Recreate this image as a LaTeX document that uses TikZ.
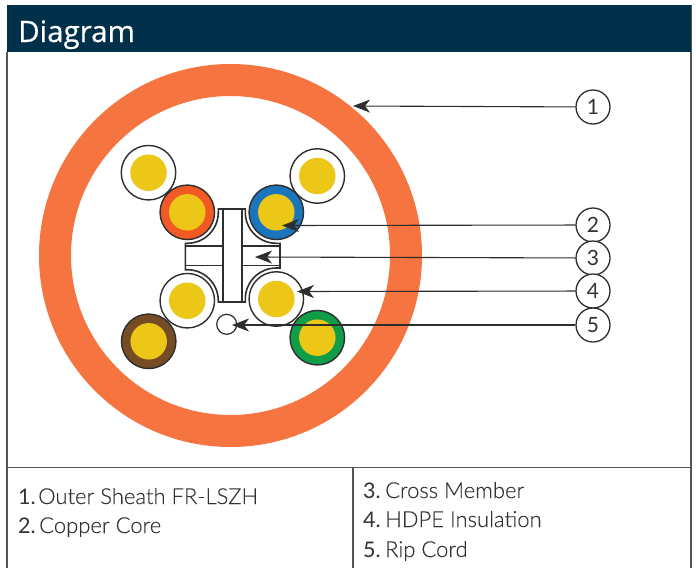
\documentclass[tikz,border=0pt]{standalone}
\usepackage{fontspec}
\setmainfont{Open Sans}
\newfontfamily\titlef[FakeBold=0.5]{Open Sans}
\newfontfamily\lightf[FakeBold=0.12]{Lato Light}
\newfontfamily\numf{Lato}
\usetikzlibrary{arrows.meta}
\definecolor{navy}{HTML}{01304A}
\definecolor{sheath}{HTML}{F5743F}
\definecolor{core}{HTML}{EDC717}
\definecolor{frameline}{HTML}{555555}
\definecolor{wireline}{HTML}{2E2E2E}
\definecolor{tOrange}{HTML}{F15A24}
\definecolor{tBlue}{HTML}{1B75BC}
\definecolor{tGreen}{HTML}{0F9D48}
\definecolor{tBrown}{HTML}{754C24}
\definecolor{txt}{HTML}{333333}
\tikzset{
  wire/.style={circle,draw=wireline,line width=1.4pt,fill=#1,minimum size=54.5pt,inner sep=0pt},
  corex/.style={circle,fill=core,minimum size=36.5pt,inner sep=0pt},
  callout/.style={circle,draw=wireline,line width=1.3pt,fill=white,minimum size=34pt,inner sep=0pt,font=\numf\fontsize{21}{21}\selectfont,text=txt},
  leader/.style={draw=wireline,line width=1.1pt,-{Stealth[length=17pt,width=13pt,inset=5pt]}},
  legend/.style={anchor=base west,inner sep=0pt,font=\lightf\fontsize{22}{24}\selectfont,text=txt},
  legnum/.style={anchor=base west,inner sep=0pt,font=\numf\fontsize{21.5}{24}\selectfont,text=txt},
  crossline/.style={draw=wireline,line width=1.6pt},
  panel/.style={draw=frameline,line width=1.2pt}
}
\begin{document}
\begin{tikzpicture}[x=1pt,y=-1pt]
\useasboundingbox (0,0) rectangle (696,568);
\fill[white] (0,0) rectangle (696,568);
% frame
\draw[panel] (7,52) -- (7,568);
\draw[panel] (691,5) -- (691,568);
\draw[panel] (7,467.5) -- (691,467.5);
\draw[panel] (353,467.5) -- (353,568);
\fill[navy] (7,5) rectangle (691,52);
\node[anchor=base west,inner sep=0pt,text=white,font=\titlef\fontsize{29.5}{29.5}\selectfont] (title) at (18,42) {Diagram};
% sheath
\node[circle,draw=sheath,line width=32pt,fill=white,minimum size=351pt,inner sep=0pt] (outer) at (230.5,255.5) {};
% cross member
\filldraw[crossline,fill=white] (218.3,209) -- (245.3,209) -- (245.3,212.3)
  arc[start angle=180,end angle=90,radius=31] -- (280,243.3) -- (280,268) -- (276.3,268)
  arc[start angle=-90,end angle=-180,radius=31] -- (245.3,302) -- (218.3,302) -- (218.3,300.7)
  arc[start angle=0,end angle=-90,radius=31] -- (185.3,269.7) -- (185.3,243.3) -- (187.3,243.3)
  arc[start angle=90,end angle=0,radius=31] -- cycle;
\draw[crossline] (223,209) -- (223,302) (241.7,209) -- (241.7,302);
\draw[crossline] (185.3,246) -- (223,246) (185.3,265.3) -- (223,265.3);
\draw[crossline] (241.7,246) -- (280,246) (241.7,265.3) -- (280,265.3);
% wires
\node[wire=white] (w1) at (148.5,172.7) {};
\node[wire=white] (w2) at (317.3,176) {};
\node[wire=white] (w3) at (187.3,300.7) {};
\node[wire=white] (w4) at (276.3,299) {};
\node[wire=tOrange] (w5) at (187.3,212.3) {};
\node[wire=tBlue] (w6) at (276.3,212.3) {};
\node[wire=tBrown] (w7) at (148.7,341.3) {};
\node[wire=tGreen] (w8) at (317.3,337.7) {};
\foreach \n in {1,...,8} \node[corex] (c\n) at (w\n) {};
% rip cord
\node[circle,draw=wireline,line width=1.2pt,fill=white,minimum size=20pt,inner sep=0pt] (rip) at (226.7,324.3) {};
% callouts
\node[callout] (n1) at (593,107) {1};
\node[callout] (n2) at (593,225) {2};
\node[callout] (n3) at (593,258) {3};
\node[callout] (n4) at (593,291) {4};
\node[callout] (n5) at (593,325) {5};
\coordinate (e1) at (353,106);
\coordinate (e2) at (282,225.5);
\coordinate (e3) at (255,257);
\coordinate (e4) at (297,291.5);
\coordinate (e5) at (232,325);
\foreach \n in {1,...,5} \draw[leader] (n\n) -- (e\n);
% legend
\node[legnum] (l1n) at (18,504) {1.};
\node[legend] (l1) at (38,504) {Outer Sheath FR-LSZH};
\node[legnum] (l2n) at (18,533) {2.};
\node[legend] (l2) at (39,533) {Copper Core};
\node[legnum] (l3n) at (363,498) {3.};
\node[legend] (l3) at (385,498) {Cross Member};
\node[legnum] (l4n) at (363,527) {4.};
\node[legend] (l4) at (385,527) {HDPE Insulation};
\node[legnum] (l5n) at (363,557) {5.};
\node[legend] (l5) at (385,557) {Rip Cord};
\end{tikzpicture}
\end{document}
